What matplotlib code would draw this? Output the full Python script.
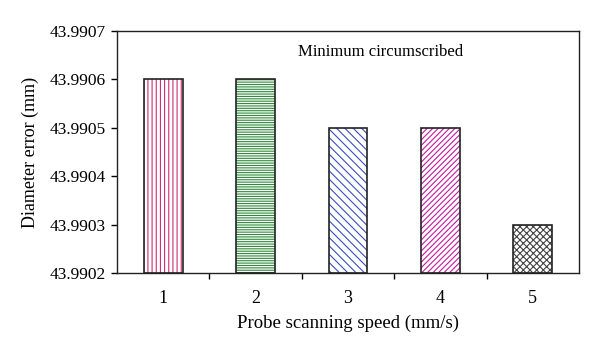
import matplotlib
matplotlib.use("Agg")
import matplotlib.pyplot as plt
from matplotlib.ticker import FormatStrFormatter, FixedLocator
import numpy as np

speeds = ["1", "2", "3", "4", "5"]
errors = [43.9906, 43.9906, 43.9905, 43.9905, 43.9903]
y_ticks = [43.9902, 43.9903, 43.9904, 43.9905, 43.9906, 43.9907]
hatches = ["||||", "-------", "\\\\\\\\", "//////", "xxxxx"]
hatch_colors = ["#d02a6a", "#2f8a3c", "#3a4cc0", "#c21a9c", "#444444"]

plt.rcParams["font.family"] = ["Liberation Serif", "DejaVu Serif"]
plt.rcParams["hatch.linewidth"] = 0.8

fig = plt.figure(figsize=(6, 3.52), dpi=100)
ax = fig.add_axes([0.195, 0.224, 0.77, 0.688])

x = np.arange(1, len(speeds) + 1)
base = y_ticks[0]
for xi, e, h, c in zip(x, errors, hatches, hatch_colors):
    ax.bar(xi, e - base, bottom=base, width=0.42, color="white",
           edgecolor=c, hatch=h, linewidth=0, zorder=2)
    ax.bar(xi, e - base, bottom=base, width=0.42, fill=False,
           edgecolor="#222222", linewidth=1.2, zorder=3)

ax.set_xlim(0.5, 5.5)
ax.set_ylim(y_ticks[0], y_ticks[-1])
ax.set_yticks(y_ticks)
ax.yaxis.set_major_formatter(FormatStrFormatter("%.4f"))
ax.set_xticks(x)
ax.set_xticklabels(speeds)
ax.xaxis.set_minor_locator(FixedLocator([1.5, 2.5, 3.5, 4.5]))
ax.tick_params(axis="x", which="major", length=0, pad=12, labelsize=13)
ax.tick_params(axis="x", which="minor", length=4, width=1, direction="out")
ax.tick_params(axis="y", length=4, width=1, direction="out", labelsize=12.5, pad=4)

for s in ax.spines.values():
    s.set_linewidth(1.0)
    s.set_color("#222222")

ax.text(0.57, 0.913, "Minimum circumscribed", transform=ax.transAxes,
        ha="center", va="center", fontsize=12)
ax.set_xlabel("Probe scanning speed (mm/s)", fontsize=13.5, labelpad=6)
ax.set_ylabel("Diameter error (mm)", fontsize=13, labelpad=8)

fig.savefig("out.png", dpi=100)
